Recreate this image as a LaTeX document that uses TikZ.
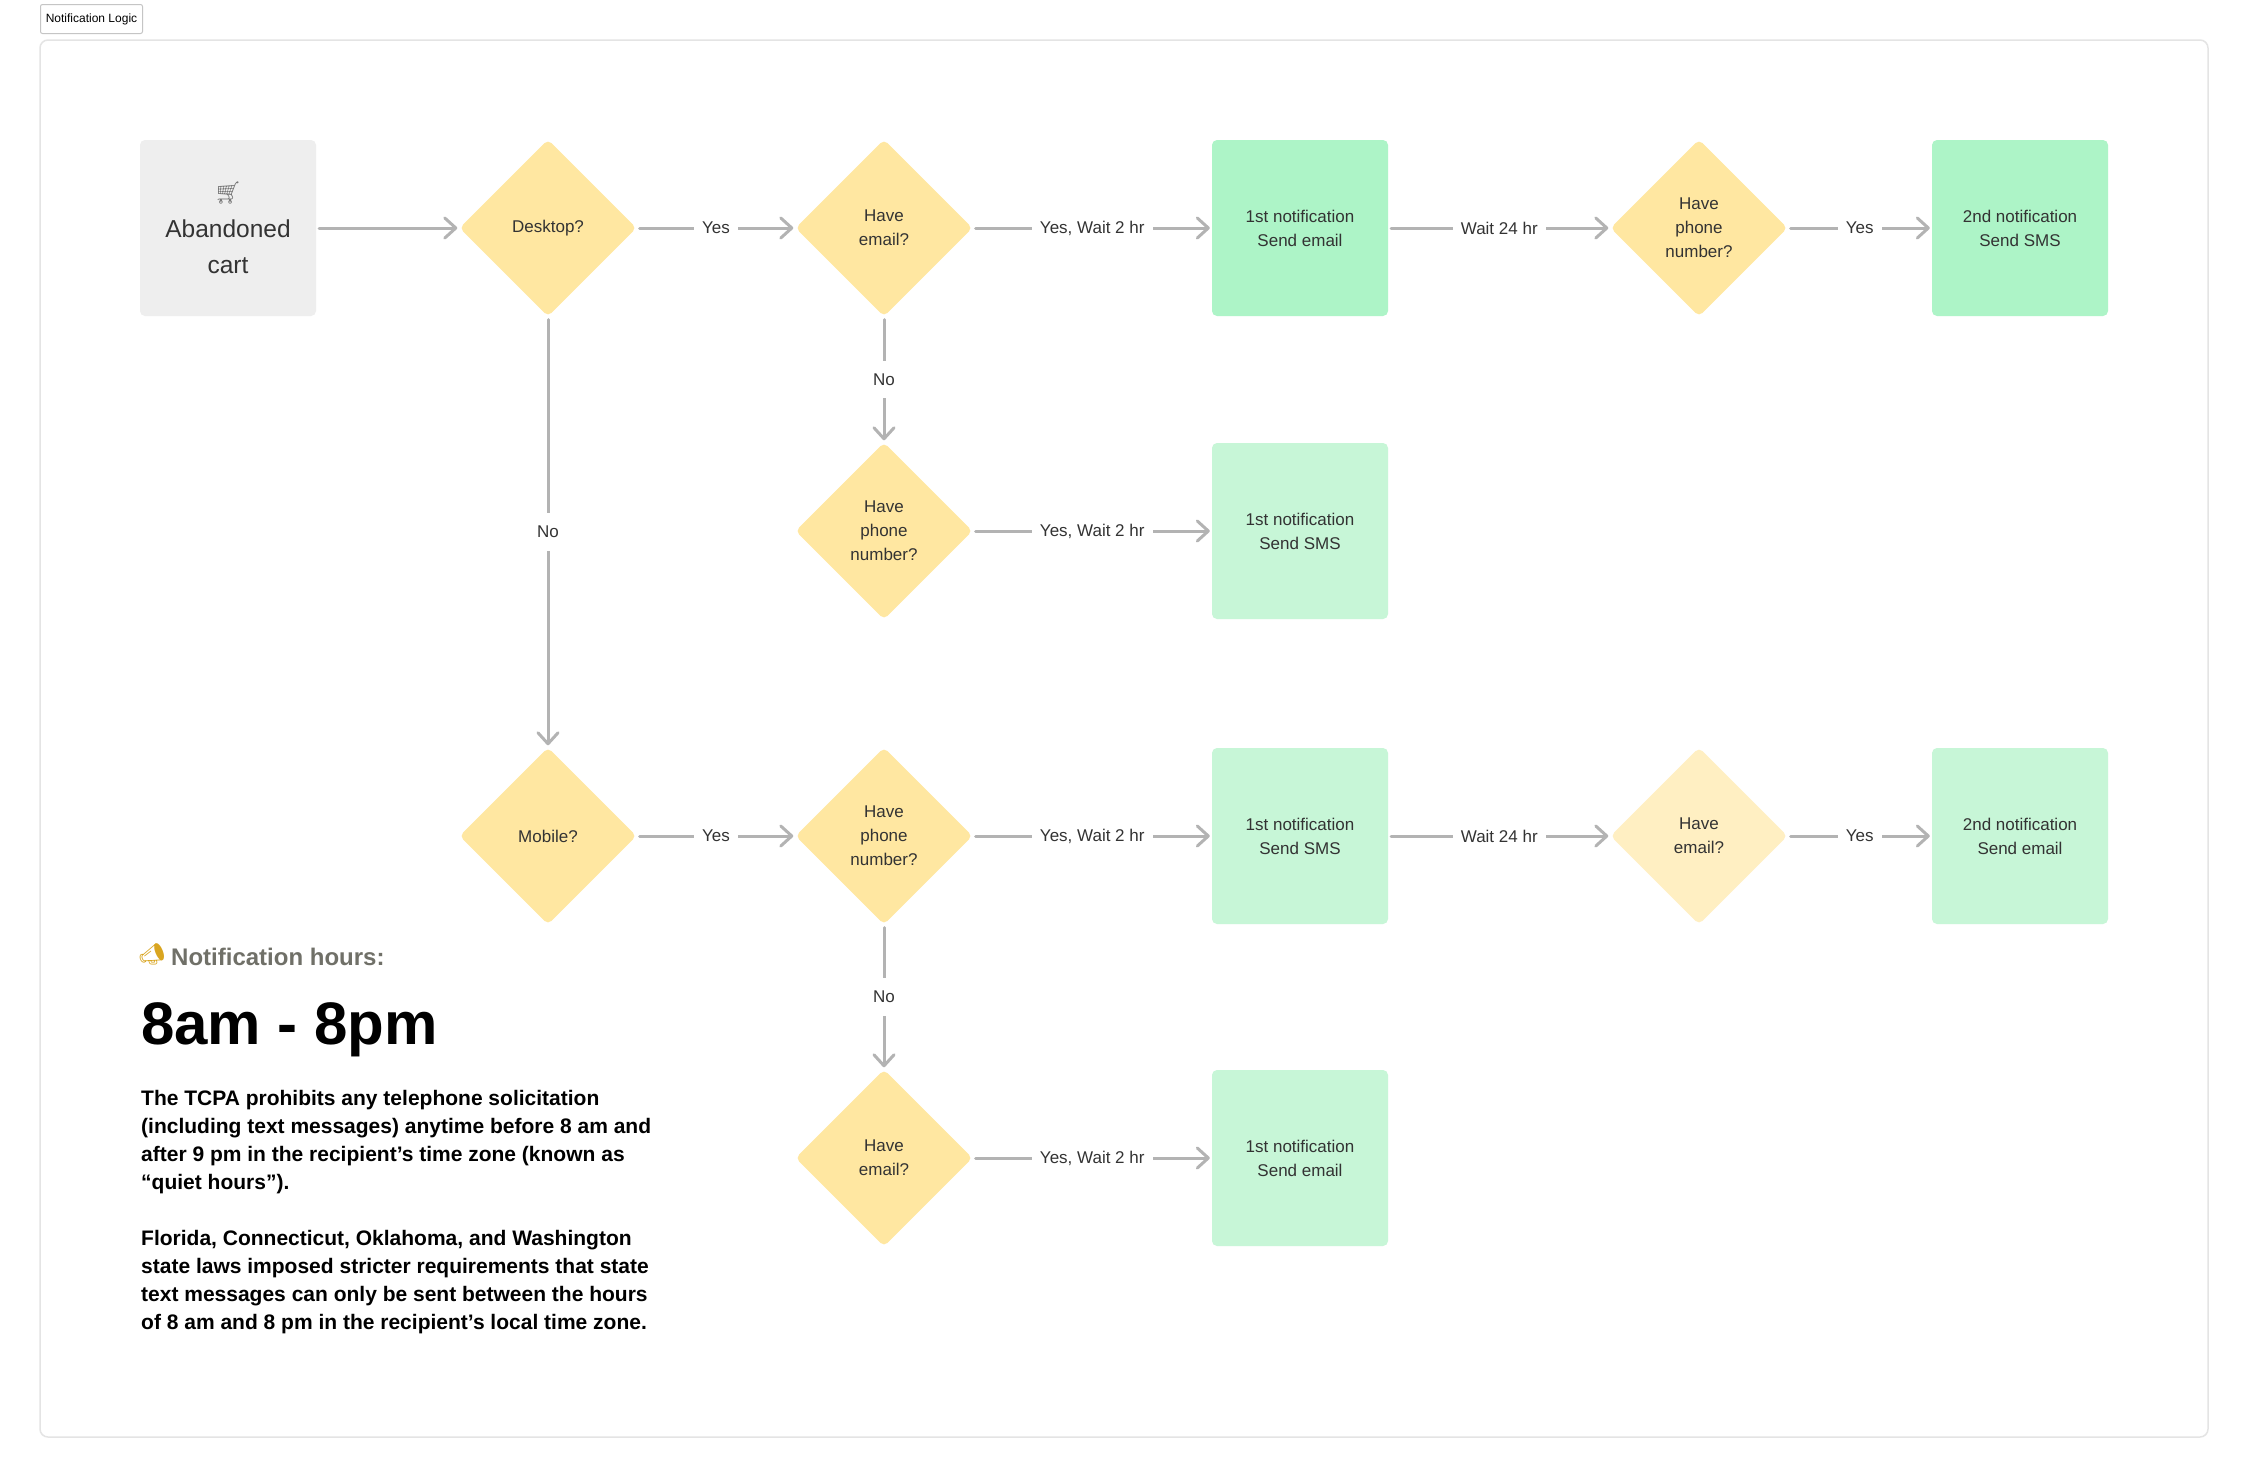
\documentclass[tikz,border=0pt]{standalone}
\usepackage{fontspec}
\setmainfont{Liberation Sans}
\newfontfamily\emojifont{Noto Emoji}
\usetikzlibrary{shapes.geometric,arrows.meta}

\definecolor{lineg}{HTML}{B3B3B3}
\definecolor{diay}{HTML}{FFE7A1}
\definecolor{diayl}{HTML}{FFEFC2}
\definecolor{grnd}{HTML}{ADF4C7}
\definecolor{grnl}{HTML}{C7F6D7}
\definecolor{cartg}{HTML}{EEEEEE}
\definecolor{txt}{HTML}{333333}
\definecolor{framec}{HTML}{E4E4E4}
\definecolor{tagc}{HTML}{C5C5C5}
\definecolor{hoursc}{HTML}{707068}
\definecolor{goldc}{HTML}{D9A520}
\definecolor{cartic}{HTML}{777777}

\begin{document}
\begin{tikzpicture}[x=1pt,y=-1pt,
  nodefont/.style={font=\fontsize{17}{24}\selectfont},
  box/.style={rectangle, rounded corners=5pt, minimum width=176pt, minimum height=176pt,
    inner sep=0pt, align=center, text=txt, nodefont},
  dia/.style={diamond, rounded corners=5pt, minimum width=177pt, minimum height=177pt,
    inner sep=0pt, align=center, text=txt, nodefont, fill=diay},
  flow/.style={draw=lineg, line width=3pt, line cap=round,
    -{Straight Barb[length=11pt,width=20pt,round]}, shorten <=3pt, shorten >=2pt},
  lbl/.style={fill=white, text=txt, nodefont, inner xsep=8pt, inner ysep=13pt}
]
\fill[white] (0,0) rectangle (2248,1478);
\path[use as bounding box] (0,0) rectangle (2248,1478);

% frame and tag
\draw[framec, line width=1.5pt, rounded corners=8pt] (40,40) rectangle (2208,1437);
\node[draw=tagc, line width=1pt, rounded corners=2pt, fill=white, minimum width=102pt,
  minimum height=29pt, inner sep=0pt, anchor=north west,
  font=\fontsize{12}{14}\selectfont] (tag) at (40,4) {Notification Logic};

% row 1
\node[box, fill=cartg, font=\fontsize{24.5}{36.5}\selectfont] (cart) at (228,228)
  {{\emojifont\fontsize{22}{36.5}\selectfont\color{cartic}🛒}\\Abandoned\\cart};
\node[dia] (desktop) at (548,228) {Desktop?};
\node[dia] (email1) at (884,228) {Have\\email?};
\node[box, fill=grnd] (n1email) at (1300,228) {1st notification\\Send email};
\node[dia] (phone1) at (1699,228) {Have\\phone\\number?};
\node[box, fill=grnd] (n2sms) at (2020,228) {2nd notification\\Send SMS};

% row 2
\node[dia] (phone2) at (884,531) {Have\\phone\\number?};
\node[box, fill=grnl] (n1sms) at (1300,531) {1st notification\\Send SMS};

% row 3
\node[dia] (mobile) at (548,836) {Mobile?};
\node[dia] (phone3) at (884,836) {Have\\phone\\number?};
\node[box, fill=grnl] (n1sms3) at (1300,836) {1st notification\\Send SMS};
\node[dia, fill=diayl] (email3) at (1699,836) {Have\\email?};
\node[box, fill=grnl] (n2email) at (2020,836) {2nd notification\\Send email};

% row 4
\node[dia] (email4) at (884,1158) {Have\\email?};
\node[box, fill=grnl] (n1email4) at (1300,1158) {1st notification\\Send email};

% connectors
\draw[flow] (cart) -- (desktop);
\draw[flow] (desktop) -- node[lbl] {Yes} (email1);
\draw[flow] (email1) -- node[lbl] {Yes, Wait 2 hr} (n1email);
\draw[flow] (n1email) -- node[lbl] {Wait 24 hr} (phone1);
\draw[flow] (phone1) -- node[lbl] {Yes} (n2sms);
\draw[flow] (email1) -- node[lbl] {No} (phone2);
\draw[flow] (phone2) -- node[lbl] {Yes, Wait 2 hr} (n1sms);
\draw[flow] (desktop) -- node[lbl] {No} (mobile);
\draw[flow] (mobile) -- node[lbl] {Yes} (phone3);
\draw[flow] (phone3) -- node[lbl] {Yes, Wait 2 hr} (n1sms3);
\draw[flow] (n1sms3) -- node[lbl] {Wait 24 hr} (email3);
\draw[flow] (email3) -- node[lbl] {Yes} (n2email);
\draw[flow] (phone3) -- node[lbl] {No} (email4);
\draw[flow] (email4) -- node[lbl] {Yes, Wait 2 hr} (n1email4);

% notes
\node[inner sep=0pt, font=\emojifont\fontsize{21}{21}\selectfont, text=goldc] (megaphone) at (152,954) {📣};
\node[inner sep=0pt, anchor=base west, text=hoursc, font=\fontsize{24}{28}\selectfont\bfseries]
  (hours) at (171,965) {Notification hours:};
\node[inner sep=0pt, anchor=base west, text=black, font=\fontsize{60}{70}\selectfont\bfseries]
  (range) at (141,1044) {8am - 8pm};
\node[inner sep=0pt, anchor=base west, align=left, text=black,
  font=\fontsize{21}{28}\selectfont\bfseries] (para) at (141,1329)
  {The TCPA prohibits any telephone solicitation\\
   (including text messages) anytime before 8 am and\\
   after 9 pm in the recipient’s time zone (known as\\
   “quiet hours”).\\
   \mbox{}\\
   Florida, Connecticut, Oklahoma, and Washington\\
   state laws imposed stricter requirements that state\\
   text messages can only be sent between the hours\\
   of 8 am and 8 pm in the recipient’s local time zone.};
\end{tikzpicture}
\end{document}
